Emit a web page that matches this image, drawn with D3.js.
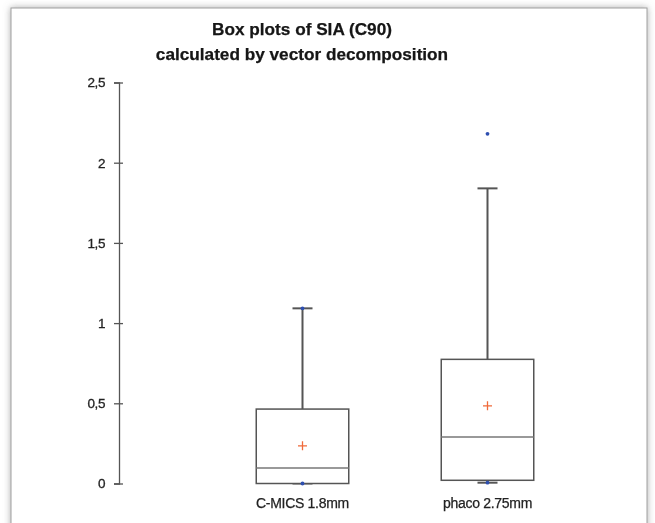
<!DOCTYPE html>
<html>
<head>
<meta charset="utf-8">
<script src="https://cdn.jsdelivr.net/npm/d3@7/dist/d3.min.js"></script>
<style>
  html, body { margin: 0; padding: 0; background: #ffffff; }
  svg { display: block; }
</style>
</head>
<body>
<script>
// Box plot summaries of surgically induced astigmatism (SIA, C90)
const categories = ["C-MICS 1.8mm", "phaco 2.75mm"];
const whiskerLow  = [0.00, 0.005];
const quartile1   = [0.00, 0.02];
const medians     = [0.097, 0.29];
const quartile3   = [0.464, 0.774];
const whiskerHigh = [1.092, 1.84];
const means       = [0.235, 0.484];
const minima      = [0.00, 0.005];
const maxima      = [1.092, 2.18];
const yTicks      = [0, 0.5, 1, 1.5, 2, 2.5];
const yTickLabels = ["0", "0,5", "1", "1,5", "2", "2,5"];
const titleLines  = ["Box plots of SIA (C90)", "calculated by vector decomposition"];

const W = 655, H = 523;
const font = "Liberation Sans, Arial, sans-serif";
const svg = d3.select("body").append("svg").attr("width", W).attr("height", H);

const defs = svg.append("defs");
const shadow = defs.append("filter").attr("id", "shadow")
  .attr("x", "-5%").attr("y", "-5%").attr("width", "110%").attr("height", "110%");
shadow.append("feDropShadow").attr("dx", 0).attr("dy", 0)
  .attr("stdDeviation", 3.5).attr("flood-color", "#777").attr("flood-opacity", 0.6);
const soft = defs.append("filter").attr("id", "soft");
soft.append("feGaussianBlur").attr("stdDeviation", 0.4);

// card panel
svg.append("rect")
  .attr("x", 11).attr("y", 8).attr("width", 636).attr("height", 540)
  .attr("fill", "#fff").attr("stroke", "#a0a0a0").attr("stroke-width", 1)
  .attr("filter", "url(#shadow)");

const g = svg.append("g").attr("filter", "url(#soft)");

const y = d3.scaleLinear().domain([0, 2.5]).range([483.5, 82.5]);
const x = d3.scaleBand().domain(categories).range([210, 580]).padding(0);
const boxW = x.bandwidth() * 0.5;
const capW = 20;
const cx = c => x(c) + x.bandwidth() / 2;

// title
g.append("text")
  .attr("x", 301).attr("y", 35)
  .attr("text-anchor", "middle")
  .attr("font-family", font)
  .attr("font-weight", "bold").attr("font-size", 17.2).attr("fill", "#141414")
  .attr("stroke", "#141414").attr("stroke-width", 0.25)
  .selectAll("tspan").data(titleLines).join("tspan")
  .attr("x", 302).attr("dy", (d, i) => i === 0 ? 0 : 25)
  .text(d => d);

// y axis
const axis = d3.axisLeft(y).tickValues(yTicks)
  .tickFormat((d, i) => yTickLabels[i]).tickSize(5).tickPadding(9);
const ax = g.append("g").attr("transform", "translate(119,0)").call(axis);
ax.select(".domain").attr("stroke", "#555").attr("stroke-width", 1.3);
ax.selectAll(".tick line").attr("stroke", "#555").attr("stroke-width", 1.3)
  .attr("x1", 4);
ax.selectAll(".tick text")
  .attr("font-family", font)
  .attr("font-size", 13.5).attr("letter-spacing", -0.4).attr("fill", "#222")
  .attr("stroke", "#222").attr("stroke-width", 0.3);

// x category labels
g.selectAll("text.cat").data(categories).join("text")
  .attr("class", "cat")
  .attr("x", d => cx(d)).attr("y", 508)
  .attr("text-anchor", "middle")
  .attr("font-family", font)
  .attr("font-size", 14).attr("letter-spacing", -0.3).attr("fill", "#222")
  .attr("stroke", "#222").attr("stroke-width", 0.25)
  .text(d => d);

const boxes = g.selectAll("g.box").data(categories).join("g").attr("class", "box");

// whiskers
boxes.append("line")
  .attr("x1", d => cx(d)).attr("x2", d => cx(d))
  .attr("y1", (d, i) => y(quartile3[i])).attr("y2", (d, i) => y(whiskerHigh[i]))
  .attr("stroke", "#555").attr("stroke-width", 2);
boxes.append("line")
  .attr("x1", d => cx(d) - capW / 2).attr("x2", d => cx(d) + capW / 2)
  .attr("y1", (d, i) => y(whiskerHigh[i])).attr("y2", (d, i) => y(whiskerHigh[i]))
  .attr("stroke", "#555").attr("stroke-width", 2);
boxes.append("line")
  .attr("x1", d => cx(d)).attr("x2", d => cx(d))
  .attr("y1", (d, i) => y(quartile1[i])).attr("y2", (d, i) => y(whiskerLow[i]))
  .attr("stroke", "#555").attr("stroke-width", 2);
boxes.append("line")
  .attr("x1", d => cx(d) - capW / 2).attr("x2", d => cx(d) + capW / 2)
  .attr("y1", (d, i) => y(whiskerLow[i])).attr("y2", (d, i) => y(whiskerLow[i]))
  .attr("stroke", "#555").attr("stroke-width", 2);

// boxes
boxes.append("rect")
  .attr("x", d => cx(d) - boxW / 2).attr("width", boxW)
  .attr("y", (d, i) => y(quartile3[i]))
  .attr("height", (d, i) => y(quartile1[i]) - y(quartile3[i]))
  .attr("fill", "#fff").attr("stroke", "#555").attr("stroke-width", 1.5);

// medians
boxes.append("line")
  .attr("x1", d => cx(d) - boxW / 2).attr("x2", d => cx(d) + boxW / 2)
  .attr("y1", (d, i) => y(medians[i])).attr("y2", (d, i) => y(medians[i]))
  .attr("stroke", "#777").attr("stroke-width", 1.5);

// means
const m = 4.5;
boxes.append("path")
  .attr("d", (d, i) => {
    const px = cx(d), py = y(means[i]);
    return `M${px - m},${py}H${px + m}M${px},${py - m}V${py + m}`;
  })
  .attr("stroke", "#f06a3a").attr("stroke-width", 1.3).attr("fill", "none");

// minimum and maximum points
boxes.selectAll("circle.ext")
  .data((d, i) => [{c: d, v: minima[i]}, {c: d, v: maxima[i]}])
  .join("circle").attr("class", "ext")
  .attr("cx", p => cx(p.c)).attr("cy", p => y(p.v)).attr("r", 1.9)
  .attr("fill", "#2f4fb0");
</script>
</body>
</html>
